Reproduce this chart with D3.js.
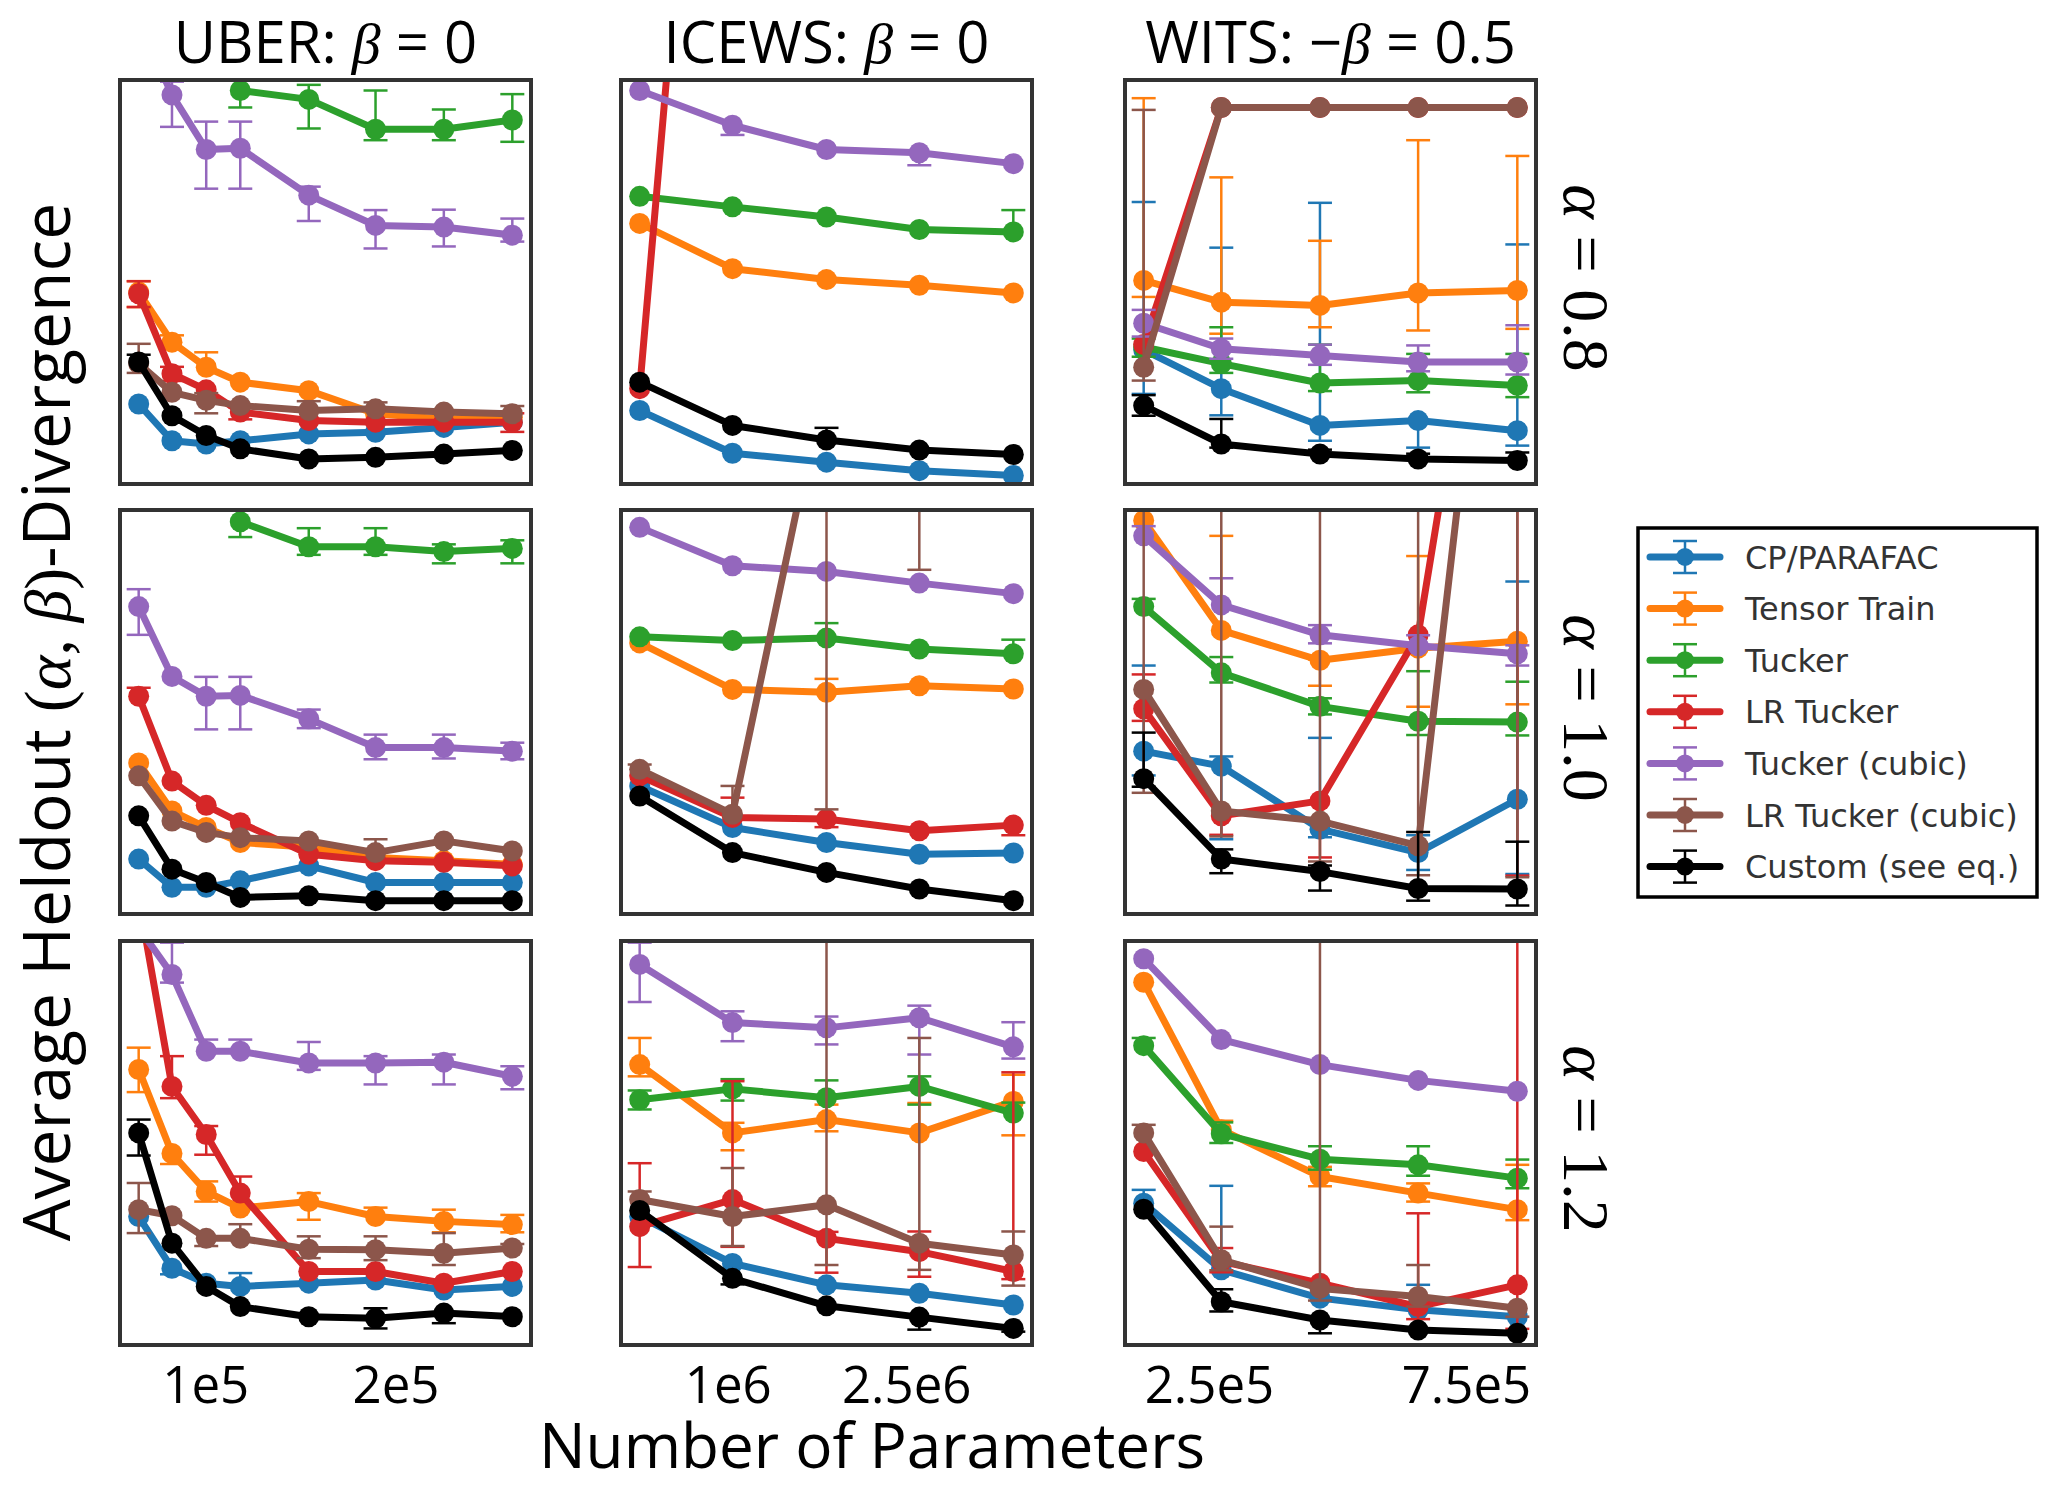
<!DOCTYPE html>
<html><head><meta charset="utf-8">
<script src="https://cdn.jsdelivr.net/npm/d3@7"></script>
<style>body{margin:0;background:#fff;} svg{display:block}</style>
</head><body>
<svg id="chart" width="2050" height="1485"></svg>
<script>
// ---------------- DATA ----------------
const seriesNames = ["CP/PARAFAC", "Tensor Train", "Tucker", "LR Tucker", "Tucker (cubic)", "LR Tucker (cubic)", "Custom (see eq.)"];
const seriesColors = ["#1f77b4", "#ff7f0e", "#2ca02c", "#d62728", "#9467bd", "#8c564b", "#000000"];

const datasetNames = ["UBER", "ICEWS", "WITS"];
const betaPrefix = ["", "", "\u2212"];
const betaValues = ["0", "0", "0.5"];
const alphaLabels = ["0.8", "1.0", "1.2"];

const xUber = [65000, 82500, 100500, 118400, 154400, 189500, 225400, 261400];
const xIcews = [260000, 1040000, 1830000, 2610000, 3400000];
const xWits = [123000, 274000, 466000, 657000, 850000];

const ticksUber = [100000, 200000];
const tickLabelsUber = ["1e5", "2e5"];
const ticksIcews = [1000000, 2500000];
const tickLabelsIcews = ["1e6", "2.5e6"];
const ticksWits = [250000, 750000];
const tickLabelsWits = ["2.5e5", "7.5e5"];

// Values: relative heldout divergence (0 = bottom of panel, 100 = top; no y ticks shown)
// order: CP, TT, Tucker, LR Tucker, Tucker (cubic), LR Tucker (cubic), Custom
const uber08Val = [
  [19.8, 10.7, 9.9, 10.7, 12.4, 12.8, 14.0, 15.3],
  [47.5, 35.1, 28.9, 25.2, 23.1, 17.4, 16.1, 16.5],
  [null, null, null, 97.4, 95.2, 87.8, 87.8, 90.1],
  [47.1, 27.3, 23.3, 17.8, 15.7, 15.3, 15.3, 15.3],
  [115, 96.3, 82.8, 83.1, 71.5, 64.0, 63.6, 61.6],
  [29.8, 22.7, 20.7, 19.4, 18.2, 18.6, 17.8, 17.4],
  [30.2, 16.9, 12.0, 8.7, 6.2, 6.6, 7.4, 8.3]
];
const uber08Lo = [
  null,
  [43.8, null, null, null, null, null, null, null],
  [null, null, null, 93.2, 88.0, 85.1, 85.1, 84.7],
  [43.8, 25.5, null, 16.0, null, null, null, 12.9],
  [108, 88.4, 73.1, 73.1, 65.1, 58.3, 58.8, 60.0],
  [27.5, null, 17.5, null, null, null, null, null],
  null
];
const uber08Hi = [
  null,
  [50.2, 36.8, 32.6, null, null, null, null, null],
  [null, null, null, 102, 98.8, 97.4, 92.7, 96.5],
  [50.2, 29.0, null, 19.0, null, null, null, 17.5],
  [122, 99.6, 89.7, 89.7, 73.6, 67.8, 67.9, 65.7],
  [34.7, null, 22.5, null, 20.5, 20.2, null, 19.3],
  [32.0, null, null, null, null, null, null, null]
];

const icews08Val = [
  [18.2, 7.6, 5.4, 3.3, 2.1],
  [64.5, 53.3, 50.6, 49.2, 47.3],
  [71.2, 68.6, 66.1, 63.0, 62.4],
  [23.6, 289, 290, 290, 290],
  [97.4, 88.8, 82.8, 82.0, 79.3],
  [null, null, null, null, null],
  [25.2, 14.5, 10.9, 8.4, 7.3]
];
const icews08Lo = [
  null, null, null, null,
  [null, 86.4, null, 78.9, null],
  null, null
];
const icews08Hi = [
  null, null,
  [null, null, null, null, 67.8],
  null, null, null,
  [null, null, 13.9, null, null]
];

const wits08Val = [
  [33.2, 23.6, 14.5, 15.7, 13.2],
  [50.4, 45.0, 44.2, 47.3, 47.9],
  [33.9, 29.8, 25.0, 25.6, 24.4],
  [34.5, 93.2, 93.2, 93.2, 93.2],
  [39.8, 33.5, 31.8, 30.2, 30.2],
  [28.9, 93.2, 93.2, 93.2, 93.2],
  [19.4, 9.9, 7.4, 6.2, 5.8]
];
const wits08Lo = [
  [22.3, 17.0, 10.7, 9.0, 9.5],
  [46.3, 37.2, 38.8, 38.0, 38.4],
  [31.5, 27.5, 23.0, 22.7, 21.5],
  null,
  [36.5, 31.0, 29.5, 27.9, 27.1],
  [25.6, null, null, null, null],
  [16.9, 9.0, null, null, null]
];
const wits08Hi = [
  [69.8, 58.5, 69.6, null, 59.3],
  [95.5, 75.9, 60.2, 85.1, 81.2],
  [36.0, 38.8, 34.5, 32.2, 32.2],
  null,
  [43.1, 36.0, 34.5, 34.3, 39.3],
  [92.6, null, null, null, null],
  [22.0, 16.1, 8.5, 7.5, 7.8]
];

const uber10Val = [
  [13.6, 6.6, 6.6, 8.2, 11.9, 7.8, 7.8, 7.8],
  [37.4, 25.5, 21.4, 17.7, 16.5, 14.0, 13.2, 12.3],
  [null, null, null, 97.1, 90.9, 90.9, 89.7, 90.5],
  [53.9, 32.9, 26.9, 22.6, 14.8, 13.2, 12.8, 11.9],
  [76.1, 58.8, 53.9, 54.1, 48.3, 41.2, 41.2, 40.3],
  [34.2, 23.0, 20.2, 18.9, 18.1, 15.2, 18.1, 15.6],
  [24.3, 11.1, 7.8, 4.1, 4.5, 3.3, 3.3, 3.3]
];
const uber10Lo = [
  null, null,
  [null, null, null, 93.3, 88.9, 88.9, 86.8, 86.8],
  null,
  [69.1, null, 45.7, 45.7, 46.0, 38.3, 38.5, 38.3],
  null, null
];
const uber10Hi = [
  null, null,
  [null, null, null, 101, 95.5, 95.5, 91.5, 92.5],
  [56.0, null, null, null, null, null, null, null],
  [80.4, null, 58.7, 58.7, 50.6, 44.4, 44.4, 42.4],
  [null, null, null, null, null, 18.5, null, null],
  null
];

const icews10Val = [
  [31.7, 21.4, 17.7, 14.8, 15.1],
  [67.1, 55.6, 54.9, 56.5, 55.7],
  [68.6, 67.7, 68.3, 65.6, 64.4],
  [34.2, 23.9, 23.5, 20.6, 22.0],
  [95.7, 86.2, 84.8, 81.9, 79.3],
  [35.8, 24.7, 135, 150, 150],
  [29.2, 15.2, 10.3, 6.2, 3.3]
];
const icews10Lo = [
  null, null, null,
  [null, null, 21.5, null, 19.5],
  null,
  [null, null, 25.9, 85.2, null],
  null
];
const icews10Hi = [
  null,
  [null, null, 58.2, null, null],
  [null, null, 72.0, null, 67.9],
  [null, 28.8, null, null, null],
  null,
  [37.0, 31.7, 250, 250, null],
  null
];

const wits10Val = [
  [40.3, 36.6, 21.0, 15.2, 28.4],
  [97.4, 70.2, 62.8, 65.8, 67.5],
  [76.1, 59.7, 51.4, 47.7, 47.5],
  [50.8, 24.3, 28.0, 69.1, 219],
  [93.6, 76.5, 69.1, 66.4, 64.4],
  [55.6, 25.5, 23.0, 16.9, 229],
  [33.5, 13.6, 10.5, 6.3, 6.2]
];
const wits10Lo = [
  [34.3, 18.5, 19.0, 10.9, 9.9],
  [null, null, 56.5, 51.3, 51.9],
  [null, 57.3, 49.4, 44.3, 44.2],
  [47.8, 19.6, 14.0, null, 9.5],
  [null, null, 67.0, null, 61.5],
  [30.0, 19.2, 13.0, 9.6, 9.1],
  [31.5, 10.1, 5.8, 3.3, 2.1]
];
const wits10Hi = [
  [61.5, 39.0, 43.6, 19.5, 82.3],
  [100, 93.6, 63.0, 88.6, null],
  [78.0, 63.6, 53.4, 60.1, 57.5],
  [59.3, null, null, null, null],
  [96.0, 83.1, 71.5, 69.0, 66.5],
  [200, 200, 200, 200, 250],
  [44.9, 16.0, 12.0, 20.3, 17.9]
];

const uber12Val = [
  [31.8, 19.0, 15.3, 14.5, 15.3, 16.1, 13.6, 14.5],
  [68.2, 47.4, 38.0, 33.9, 35.5, 31.8, 30.6, 29.8],
  [null, null, null, null, null, null, null, null],
  [110.6, 64.0, 52.1, 37.6, 18.2, 18.2, 15.3, 18.2],
  [103.3, 91.7, 72.7, 72.7, 69.8, 69.8, 70.0, 66.5],
  [33.5, 32.0, 26.4, 26.4, 23.7, 23.6, 22.7, 24.0],
  [52.5, 25.2, 14.5, 9.5, 7.0, 6.6, 7.9, 7.0]
];
const uber12Lo = [
  [null, 17.5, null, null, null, null, null, null],
  [62.6, 44.8, 35.5, null, 31.0, null, 27.9, 27.9],
  null,
  [null, 61.1, 47.1, null, null, null, null, null],
  [null, 89.7, null, null, 68.1, 64.5, 64.5, 63.3],
  [27.7, null, 24.5, null, 21.5, 21.0, 19.8, null],
  [46.9, null, null, null, null, 4.1, 5.4, null]
];
const uber12Hi = [
  [null, null, null, 17.8, null, null, null, null],
  [73.6, null, 40.5, null, 37.6, 34.0, 33.5, 32.2],
  null,
  [null, 71.5, 54.2, 41.7, null, null, null, null],
  [null, 99.6, 75.6, 75.6, 75.0, 71.5, 71.9, 69.0],
  [40.1, null, null, 29.9, 26.9, 26.9, 27.7, 25.0],
  [55.8, null, null, null, null, 9.1, null, null]
];

const icews12Val = [
  [31.8, 20.2, 14.9, 12.8, 9.9],
  [69.4, 52.5, 55.8, 52.5, 60.3],
  [60.7, 63.4, 61.2, 64.0, 57.4],
  [29.3, 36.0, 26.4, 23.1, 18.2],
  [94.2, 79.8, 78.5, 81.0, 73.8],
  [36.0, 31.8, 34.7, 25.2, 22.3],
  [33.3, 16.5, 9.7, 6.9, 4.1]
];
const icews12Lo = [
  null,
  [66.5, 48.2, 52.9, null, 51.9],
  [58.3, 60.5, null, 59.5, null],
  [19.3, 24.3, 17.9, 16.9, 16.3],
  [84.9, 75.2, 74.4, 71.9, 70.9],
  [null, 24.5, 19.8, 18.6, 14.7],
  [null, 15.0, null, 3.8, 3.3]
];
const icews12Hi = [
  null,
  [76.0, 55.0, 59.5, 59.9, 66.9],
  [63.0, 65.8, 65.5, 66.5, 60.0],
  [45.0, 65.3, 28.0, 28.1, 67.5],
  [99.6, 82.6, 81.3, 84.0, 79.9],
  [38.0, 43.8, 120, 76.0, 28.1],
  null
];

const wits12Val = [
  [35.1, 18.6, 11.6, 8.7, 7.0],
  [89.8, 53.3, 41.7, 37.6, 33.5],
  [74.1, 52.3, 46.0, 44.6, 41.3],
  [47.9, 20.7, 15.3, 9.5, 14.9],
  [95.6, 75.6, 69.4, 65.5, 62.8],
  [52.5, 21.1, 14.0, 12.0, 9.1],
  [33.6, 10.7, 6.2, 3.7, 2.9]
];
const wits12Lo = [
  null,
  [null, null, 39.3, 35.5, 30.9],
  [null, 50.0, 43.4, 41.9, 38.8],
  [null, 18.0, null, 6.4, 4.0],
  null,
  [null, 18.5, 11.0, 9.5, 7.0],
  [null, 8.3, 2.9, null, null]
];
const wits12Hi = [
  [38.4, 39.4, null, 14.9, null],
  [null, 55.5, 44.1, 40.0, 44.6],
  [76.0, 55.1, 49.2, 49.2, 45.9],
  [null, 24.0, null, 32.6, 110],
  null,
  [54.5, 29.3, 120, 19.8, null],
  [null, 13.8, null, null, null]
];

// --------------- LAYOUT ----------------
const W = 2050, H = 1485;
const colX = [120, 621, 1125];
const rowY = [80, 510, 941];
const pw = 411, ph = 404;
const SANS = "'Open Sans', 'Noto Sans', sans-serif";
const SERIF = "'Liberation Serif', 'DejaVu Serif', serif";

const svg = d3.select("#chart");
svg.append("rect").attr("width", W).attr("height", H).attr("fill", "#fff");
const defs = svg.append("defs");

const colX_data = [xUber, xIcews, xWits];
const colTicks = [ticksUber, ticksIcews, ticksWits];
const colTickLabels = [tickLabelsUber, tickLabelsIcews, tickLabelsWits];
const panelVals = [
  [uber08Val, icews08Val, wits08Val],
  [uber10Val, icews10Val, wits10Val],
  [uber12Val, icews12Val, wits12Val]
];
const panelLo = [
  [uber08Lo, icews08Lo, wits08Lo],
  [uber10Lo, icews10Lo, wits10Lo],
  [uber12Lo, icews12Lo, wits12Lo]
];
const panelHi = [
  [uber08Hi, icews08Hi, wits08Hi],
  [uber10Hi, icews10Hi, wits10Hi],
  [uber12Hi, icews12Hi, wits12Hi]
];

const LW = 7, MR = 10.5, EW = 2.5, CAP = 12;

for (let r = 0; r < 3; r++) {
  for (let c = 0; c < 3; c++) {
    const xs = colX_data[c];
    const xmin = d3.min(xs), xmax = d3.max(xs), pad = 0.05 * (xmax - xmin);
    const x = d3.scaleLinear().domain([xmin - pad, xmax + pad]).range([colX[c], colX[c] + pw]);
    const y = d3.scaleLinear().domain([0, 100]).range([rowY[r] + ph, rowY[r]]);
    const id = `clip-${r}-${c}`;
    defs.append("clipPath").attr("id", id).append("rect")
      .attr("x", colX[c]).attr("y", rowY[r]).attr("width", pw).attr("height", ph);
    const g = svg.append("g").attr("clip-path", `url(#${id})`);
    const vals = panelVals[r][c], los = panelLo[r][c], his = panelHi[r][c];
    seriesNames.forEach((name, s) => {
      const pts = xs.map((xv, i) => ({
        x: xv, v: vals[s][i],
        lo: los[s] ? los[s][i] : null,
        hi: his[s] ? his[s][i] : null
      })).filter(d => d.v != null);
      if (!pts.length) return;
      const col = seriesColors[s];
      const gs = g.append("g");
      pts.forEach(d => {
        if (d.lo == null && d.hi == null) return;
        const y1 = y(d.lo != null ? d.lo : d.v), y2 = y(d.hi != null ? d.hi : d.v), xp = x(d.x);
        gs.append("line").attr("x1", xp).attr("x2", xp).attr("y1", y1).attr("y2", y2)
          .attr("stroke", col).attr("stroke-width", EW);
        [[d.lo, y1], [d.hi, y2]].forEach(([val, yy]) => {
          if (val == null) return;
          gs.append("line").attr("x1", xp - CAP).attr("x2", xp + CAP).attr("y1", yy).attr("y2", yy)
            .attr("stroke", col).attr("stroke-width", EW);
        });
      });
      gs.append("path").datum(pts)
        .attr("d", d3.line().x(d => x(d.x)).y(d => y(d.v)))
        .attr("fill", "none").attr("stroke", col).attr("stroke-width", LW)
        .attr("stroke-linejoin", "round").attr("stroke-linecap", "round");
      gs.selectAll("circle").data(pts).join("circle")
        .attr("cx", d => x(d.x)).attr("cy", d => y(d.v)).attr("r", MR).attr("fill", col);
    });
    svg.append("rect").attr("x", colX[c]).attr("y", rowY[r]).attr("width", pw).attr("height", ph)
      .attr("fill", "none").attr("stroke", "#333").attr("stroke-width", 4);

    if (r === 2) {
      const ax = d3.axisBottom(x).tickValues(colTicks[c])
        .tickFormat((d, i) => colTickLabels[c][i]).tickSize(0).tickPadding(22);
      const axg = svg.append("g").attr("transform", `translate(0,${rowY[r] + ph})`).call(ax);
      axg.select(".domain").remove();
      axg.selectAll("text").attr("font-family", SANS).attr("font-size", 51).attr("fill", "#000");
    }
    if (r === 0) {
      const t = svg.append("text").attr("x", colX[c] + pw / 2).attr("y", 63)
        .attr("text-anchor", "middle").attr("font-family", SANS).attr("font-size", 58).attr("fill", "#000");
      t.append("tspan").text(datasetNames[c] + ": " + betaPrefix[c]);
      t.append("tspan").attr("font-family", SERIF).attr("font-style", "italic").text("\u03B2");
      t.append("tspan").text(" = " + betaValues[c]);
    }
    if (c === 2) {
      const cy = rowY[r] + ph / 2 - 4;
      const t = svg.append("text").attr("transform", `translate(1564,${cy}) rotate(90)`)
        .attr("text-anchor", "middle").attr("font-family", SERIF).attr("font-size", 66).attr("fill", "#000");
      t.append("tspan").attr("font-style", "italic").text("\u03B1");
      t.append("tspan").text(" = " + alphaLabels[r]);
    }
  }
}

svg.append("text").attr("x", 872).attr("y", 1468).attr("text-anchor", "middle")
  .attr("font-family", SANS).attr("font-size", 62).attr("fill", "#000").text("Number of Parameters");

const yl = svg.append("text").attr("transform", "translate(70,722) rotate(-90)")
  .attr("text-anchor", "middle").attr("font-family", SANS).attr("font-size", 66).attr("fill", "#000");
yl.append("tspan").text("Average Heldout ");
const ym = yl.append("tspan").attr("font-family", SERIF);
ym.append("tspan").text("(");
ym.append("tspan").attr("font-style", "italic").text("\u03B1");
ym.append("tspan").text(", ");
ym.append("tspan").attr("font-style", "italic").text("\u03B2");
ym.append("tspan").text(")");
yl.append("tspan").attr("font-family", SANS).text("-Divergence");

const lg = svg.append("g");
lg.append("rect").attr("x", 1638).attr("y", 528).attr("width", 399).attr("height", 369)
  .attr("fill", "#fff").attr("stroke", "#000").attr("stroke-width", 3.5);
seriesNames.forEach((name, s) => {
  const cy = 557 + s * 51.6, col = seriesColors[s];
  lg.append("line").attr("x1", 1650).attr("x2", 1720).attr("y1", cy).attr("y2", cy)
    .attr("stroke", col).attr("stroke-width", LW).attr("stroke-linecap", "round");
  lg.append("line").attr("x1", 1685).attr("x2", 1685).attr("y1", cy - 16).attr("y2", cy + 16)
    .attr("stroke", col).attr("stroke-width", EW);
  [cy - 16, cy + 16].forEach(yy => lg.append("line").attr("x1", 1685 - CAP).attr("x2", 1685 + CAP)
    .attr("y1", yy).attr("y2", yy).attr("stroke", col).attr("stroke-width", EW));
  lg.append("circle").attr("cx", 1685).attr("cy", cy).attr("r", 9).attr("fill", col);
  lg.append("text").attr("x", 1745).attr("y", cy).attr("dy", "0.36em")
    .attr("font-family", "'DejaVu Sans', sans-serif").attr("font-size", 32).attr("fill", "#333").text(name);
});
</script>
</body></html>
